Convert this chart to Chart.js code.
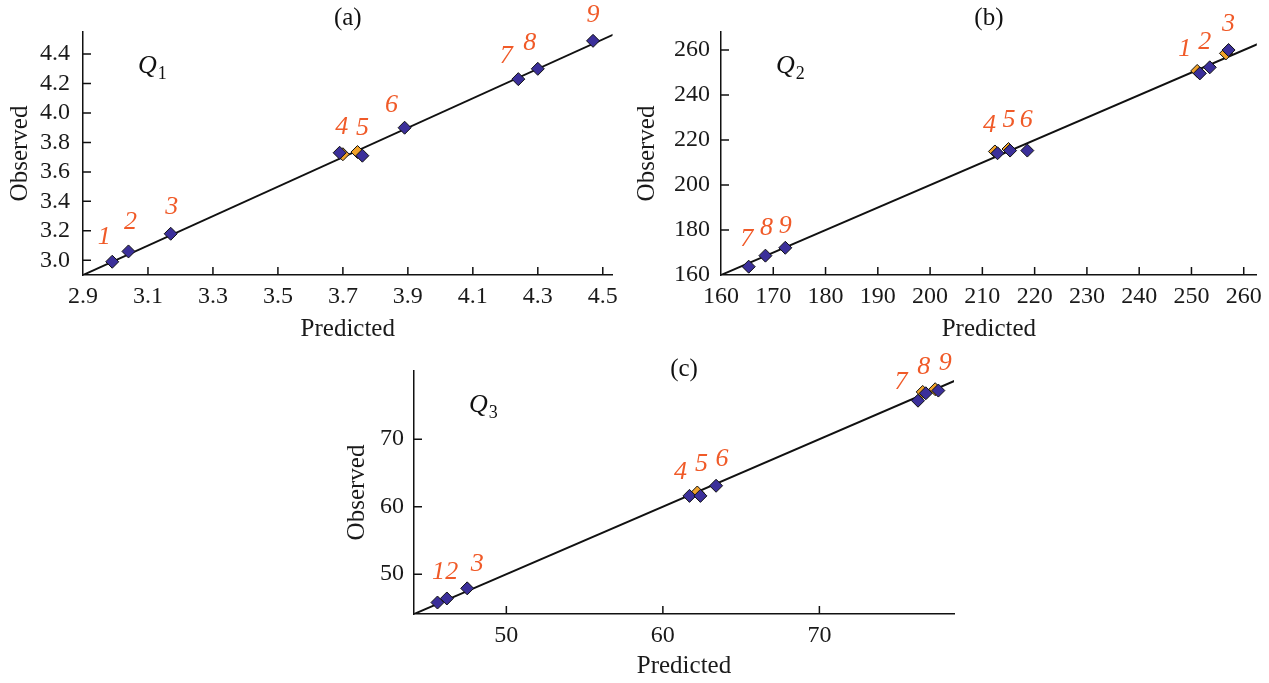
<!DOCTYPE html>
<html>
<head>
<meta charset="utf-8">
<script src="https://cdn.jsdelivr.net/npm/chart.js@4.4.1/dist/chart.umd.min.js"></script>
<style>
  body { margin: 0; background: #fff; width: 1269px; height: 683px; position: relative; overflow: hidden; }
  canvas { position: absolute; }
</style>
</head>
<body>
<canvas id="chartA" width="625" height="345" style="left:0;top:0"></canvas>
<canvas id="chartB" width="644" height="345" style="left:625px;top:0"></canvas>
<canvas id="chartC" width="640" height="338" style="left:340px;top:345px"></canvas>
<script>
const pointNumbers = ['1', '2', '3', '4', '5', '6', '7', '8', '9'];

// (a) Q1
const predA = [2.99, 3.04, 3.17, 3.69, 3.76, 3.89, 4.24, 4.30, 4.47];
const obsA  = [2.99, 3.06, 3.18, 3.73, 3.71, 3.90, 4.23, 4.30, 4.49];
const predA2 = [null, null, null, 3.70, 3.745, null, null, null, null];
const obsA2  = [null, null, null, 3.72, 3.735, null, null, null, null];
const xTicksA = [2.9, 3.1, 3.3, 3.5, 3.7, 3.9, 4.1, 4.3, 4.5];
const yTicksA = [3.0, 3.2, 3.4, 3.6, 3.8, 4.0, 4.2, 4.4];
const diagA = [2.9, 4.56];

// (b) Q2
const predB = [251.6, 253.5, 257.1, 212.9, 215.3, 218.6, 165.3, 168.5, 172.3];
const obsB  = [249.6, 252.3, 260.0, 214.1, 215.3, 215.3, 163.7, 168.6, 172.1];
const predB2 = [251.1, null, 256.6, 212.4, 215.0, null, null, null, null];
const obsB2  = [250.7, null, 258.5, 214.9, 216.0, null, null, null, null];
const xTicksB = [160, 170, 180, 190, 200, 210, 220, 230, 240, 250, 260];
const yTicksB = [160, 180, 200, 220, 240, 260];
const diagB = [160, 264];

// (c) Q3
const predC = [45.6, 46.2, 47.5, 61.7, 62.4, 63.4, 76.3, 76.8, 77.6];
const obsC  = [45.8, 46.4, 47.9, 61.6, 61.6, 63.1, 75.7, 76.8, 77.2];
const predC2 = [null, null, null, null, 62.2, null, null, 76.6, 77.4];
const obsC2  = [null, null, null, null, 62.1, null, null, 77.0, 77.4];
const xTicksC = [50, 60, 70];
const yTicksC = [50, 60, 70];
const diagC = [44.1, 79];

const serif = '"Liberation Serif", "DejaVu Serif", serif';
const numColor = '#f05a28';

const zip = (xs, ys) => xs.map((x, i) => ({x: x, y: ys[i]}));

const innerTicks = {
  id: 'innerTicks',
  afterDatasetsDraw(chart) {
    const {ctx, chartArea: a, scales: {x, y}} = chart;
    ctx.save();
    ctx.strokeStyle = '#111';
    ctx.lineWidth = 1.5;
    ctx.beginPath();
    x.ticks.forEach(t => {
      const px = x.getPixelForValue(t.value);
      if (px - a.left < 3) return;
      ctx.moveTo(px, a.bottom);
      ctx.lineTo(px, a.bottom - 8);
    });
    y.ticks.forEach(t => {
      const py = y.getPixelForValue(t.value);
      if (a.bottom - py < 3) return;
      ctx.moveTo(a.left, py);
      ctx.lineTo(a.left + 8, py);
    });
    ctx.stroke();
    ctx.restore();
  }
};

const panelText = {
  id: 'panelText',
  afterDraw(chart, args, o) {
    const {ctx, chartArea: a} = chart;
    ctx.save();
    ctx.fillStyle = '#111';
    ctx.textBaseline = 'middle';
    ctx.textAlign = 'center';
    ctx.font = '25px ' + serif;
    ctx.fillText(o.title, (a.left + a.right) / 2, o.titleY);

    ctx.textAlign = 'left';
    ctx.font = 'italic 26px ' + serif;
    ctx.fillText('Q', a.left + 55, a.top + 34);
    const w = ctx.measureText('Q').width;
    ctx.font = '18px ' + serif;
    ctx.fillText(o.sub, a.left + 56 + w, a.top + 42);

    ctx.fillStyle = numColor;
    ctx.textAlign = 'center';
    ctx.font = 'italic 26px ' + serif;
    chart.getDatasetMeta(0).data.forEach((pt, i) => {
      const off = o.offsets[i];
      ctx.fillText(pointNumbers[i], pt.x + off[0], pt.y + off[1]);
    });
    ctx.restore();
  }
};

function panel(id, p) {
  return new Chart(document.getElementById(id), {
    type: 'scatter',
    data: {
      datasets: [
        {
          data: zip(p.pred, p.obs),
          backgroundColor: '#3b2f9a',
          borderColor: '#111',
          borderWidth: 1,
          pointStyle: 'rectRot',
          pointRadius: 6.5,
          order: 0
        },
        {
          data: zip(p.pred2, p.obs2),
          backgroundColor: '#f0a22a',
          borderColor: '#111',
          borderWidth: 1,
          pointStyle: 'rectRot',
          pointRadius: 6.5,
          order: 1
        },
        {
          type: 'line',
          data: zip(p.diag, p.diag),
          borderColor: '#111',
          borderWidth: 2,
          pointRadius: 0,
          showLine: true,
          order: 2
        }
      ]
    },
    options: {
      responsive: false,
      animation: false,
      layout: { padding: p.pad },
      plugins: {
        legend: { display: false },
        tooltip: { enabled: false },
        panelText: { title: p.title, titleY: p.titleY, sub: p.sub, offsets: p.offsets }
      },
      scales: {
        x: {
          type: 'linear',
          min: p.xMin, max: p.xMax,
          afterBuildTicks: s => { s.ticks = p.xTicks.map(v => ({value: v})); },
          afterFit: s => { s.height = p.xH; },
          grid: { display: false, drawTicks: false },
          border: { display: true, color: '#111', width: 1.5 },
          ticks: {
            autoSkip: false, maxRotation: 0, padding: p.xTickPad, color: '#1a1a1a',
            font: { family: serif, size: 24 },
            callback: v => v.toFixed(p.dec)
          },
          title: {
            display: true, text: 'Predicted', color: '#1a1a1a',
            font: { family: serif, size: 25 },
            padding: { top: 0, bottom: p.xTitlePad }
          }
        },
        y: {
          type: 'linear',
          min: p.yMin, max: p.yMax,
          afterBuildTicks: s => { s.ticks = p.yTicks.map(v => ({value: v})); },
          afterFit: s => { s.width = p.yW; },
          grid: { display: false, drawTicks: false },
          border: { display: true, color: '#111', width: 1.5 },
          ticks: {
            autoSkip: false, padding: p.yTickPad, color: '#1a1a1a',
            font: { family: serif, size: 24 },
            callback: v => v.toFixed(p.dec)
          },
          title: {
            display: true, text: 'Observed', color: '#1a1a1a',
            font: { family: serif, size: 25 },
            padding: { top: p.yTitlePad, bottom: 0 }
          }
        }
      }
    },
    plugins: [innerTicks, panelText]
  });
}

panel('chartA', {
  pred: predA, obs: obsA, pred2: predA2, obs2: obsA2, diag: diagA,
  xTicks: xTicksA, yTicks: yTicksA, dec: 1,
  xMin: 2.9, xMax: 4.53, yMin: 2.9, yMax: 4.55,
  pad: { top: 32, right: 12, left: 0, bottom: 0 },
  xH: 70, yW: 83, xTickPad: 7, yTickPad: 13, xTitlePad: 1, yTitlePad: 5,
  title: '(a)', titleY: 18, sub: '1',
  offsets: [[-8, -25], [2, -29], [1, -27], [2, -26], [0, -28], [-13, -23], [-12, -23], [-8, -26], [0, -26]]
});

panel('chartB', {
  pred: predB, obs: obsB, pred2: predB2, obs2: obsB2, diag: diagB,
  xTicks: xTicksB, yTicks: yTicksB, dec: 0,
  xMin: 160, xMax: 262.5, yMin: 160, yMax: 268,
  pad: { top: 32, right: 11, left: 0, bottom: 0 },
  xH: 70, yW: 96, xTickPad: 7, yTickPad: 11, xTitlePad: 1, yTitlePad: 7,
  title: '(b)', titleY: 18, sub: '2',
  offsets: [[-15, -24], [-5, -25], [0, -26], [-8, -28], [-1, -30], [-1, -30], [-2, -28], [1, -27], [0, -22]]
});

panel('chartC', {
  pred: predC, obs: obsC, pred2: predC2, obs2: obsC2, diag: diagC,
  xTicks: xTicksC, yTicks: yTicksC, dec: 0,
  xMin: 44.1, xMax: 78.6, yMin: 44.1, yMax: 80.1,
  pad: { top: 26, right: 26, left: 0, bottom: 0 },
  xH: 69, yW: 74, xTickPad: 7, yTickPad: 10, xTitlePad: 2, yTitlePad: 2,
  title: '(c)', titleY: 24, sub: '3',
  offsets: [[1, -30], [5, -26], [10, -24], [-9, -24], [1, -32], [6, -27], [-17, -19], [-2, -26], [7, -27]]
});
</script>
</body>
</html>
